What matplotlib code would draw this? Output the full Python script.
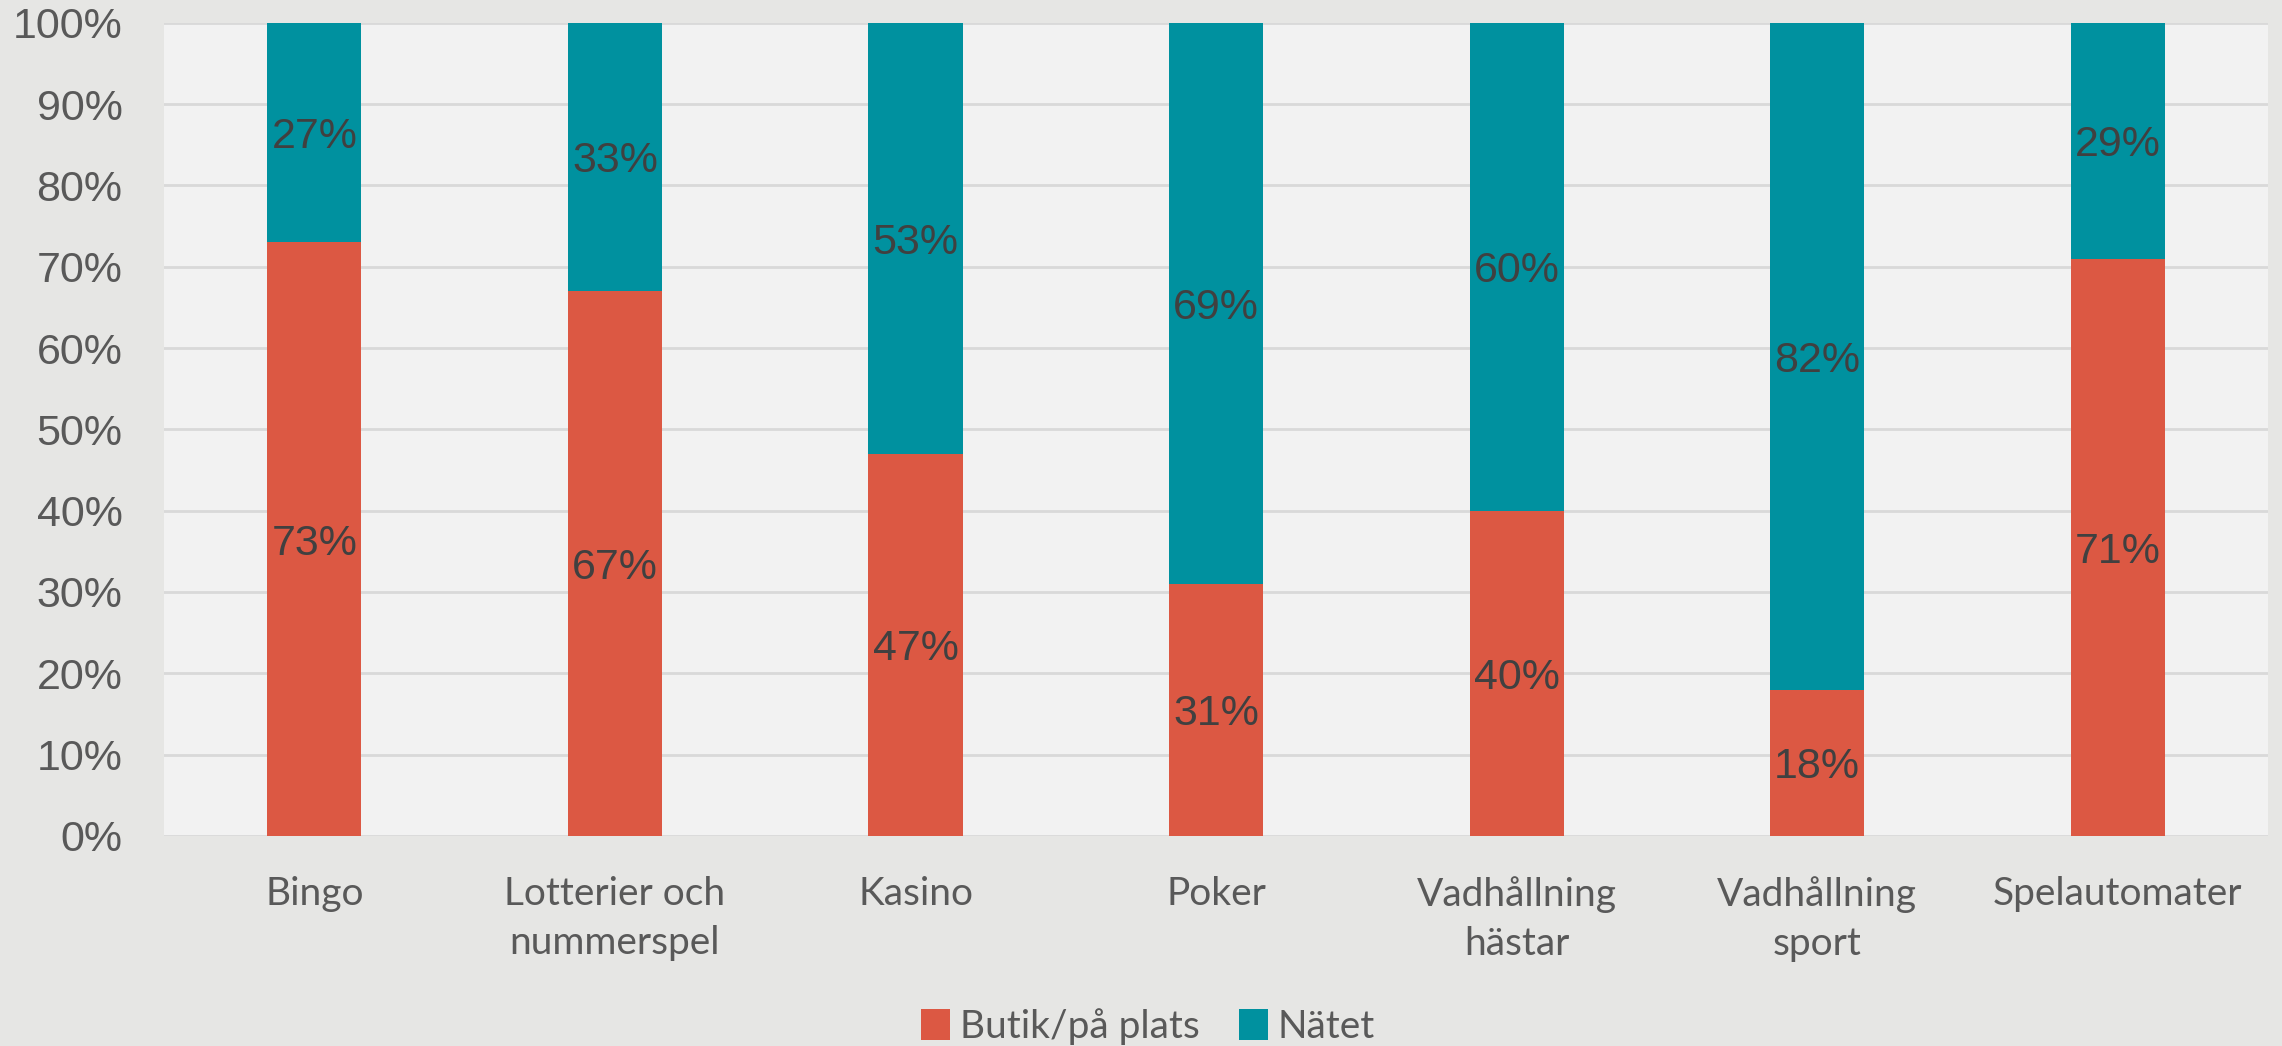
import matplotlib
matplotlib.use("Agg")
import matplotlib.pyplot as plt
import numpy as np

# Data
categories = ["Bingo", "Lotterier och\nnummerspel", "Kasino", "Poker",
              "Vadhållning\nhästar", "Vadhållning\nsport", "Spelautomater"]
butik = [73, 67, 47, 31, 40, 18, 71]
natet = [27, 33, 53, 69, 60, 82, 29]
series_names = ["Butik/på plats", "Nätet"]

# Style
red = "#DC5843"
teal = "#00919F"
fig_bg = "#E6E6E4"
ax_bg = "#F2F2F2"
grid_col = "#D9D9D9"

fig = plt.figure(figsize=(22.82, 10.46), dpi=100, facecolor=fig_bg)
ax = fig.add_axes([0.0719, 0.2008, 0.9220, 0.7775], facecolor=ax_bg)

x = np.arange(len(categories))
w = 0.313
b1 = ax.bar(x, butik, w, color=red, label=series_names[0], zorder=3)
b2 = ax.bar(x, natet, w, bottom=butik, color=teal, label=series_names[1], zorder=3)

# data labels centred in each segment
for i in range(len(categories)):
    ax.text(x[i], butik[i] / 2, f"{butik[i]}%", ha="center", va="center_baseline",
            fontsize=31, color="#404040", family="Liberation Sans", zorder=4)
    ax.text(x[i], butik[i] + natet[i] / 2, f"{natet[i]}%", ha="center",
            va="center_baseline", fontsize=31, color="#404040",
            family="Liberation Sans", zorder=4)

ax.set_xlim(-0.5, len(categories) - 0.5)
ax.set_ylim(0, 100)
ax.set_yticks(np.arange(0, 101, 10))
ax.set_yticklabels([f"{v}%" for v in range(0, 101, 10)],
                   fontsize=31, color="#595959", family="Liberation Sans")
ax.set_xticks(x)
ax.set_xticklabels(categories, fontsize=28, color="#595959", family="Lato",
                   linespacing=1.45)
ax.tick_params(axis="y", length=0, pad=30)
ax.tick_params(axis="x", length=0, pad=29)
ax.grid(axis="y", color=grid_col, linewidth=2, zorder=0)
for s in ax.spines.values():
    s.set_visible(False)

leg = fig.legend(handles=[b1, b2], labels=series_names, loc="center",
                 bbox_to_anchor=(0.503, 0.019), ncol=2, frameon=False,
                 prop={"family": "Lato", "size": 28}, handlelength=0.75,
                 handleheight=0.85, handletextpad=0.25, columnspacing=1.0)
for t in leg.get_texts():
    t.set_color("#595959")

fig.savefig("out.png", dpi=100, facecolor=fig_bg)
